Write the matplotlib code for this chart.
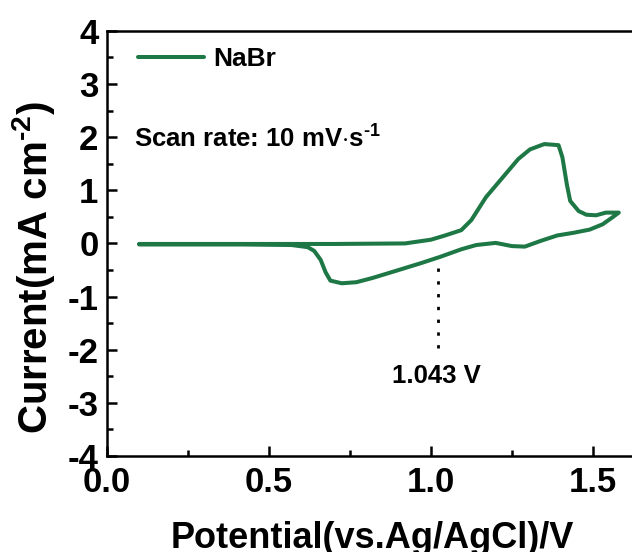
import matplotlib
matplotlib.use("Agg")
import matplotlib.pyplot as plt
from matplotlib.ticker import MultipleLocator, FormatStrFormatter

plt.rcParams['font.family'] = ['Liberation Sans', 'DejaVu Sans']
plt.rcParams['font.weight'] = 'bold'
plt.rcParams['axes.unicode_minus'] = False
plt.rcParams['mathtext.fontset'] = 'custom'
plt.rcParams['mathtext.rm'] = 'Liberation Sans:bold'
plt.rcParams['mathtext.bf'] = 'Liberation Sans:bold'
plt.rcParams['mathtext.it'] = 'Liberation Sans:bold'
plt.rcParams['mathtext.default'] = 'bf'

# Forward scan (anodic)
fwd_v = [0.10, 0.42, 0.70, 0.92, 1.00, 1.044, 1.094, 1.125, 1.17, 1.22, 1.27, 1.306,
         1.35, 1.394, 1.406, 1.42, 1.43, 1.456, 1.48, 1.51, 1.54, 1.58]
fwd_i = [-0.01, -0.01, -0.01, 0.00, 0.07, 0.15, 0.25, 0.44, 0.87, 1.23, 1.59, 1.77,
         1.87, 1.85, 1.62, 1.10, 0.80, 0.61, 0.54, 0.53, 0.58, 0.58]
# Reverse scan (cathodic)
rev_v = [1.58, 1.5625, 1.53, 1.49, 1.44, 1.39, 1.34, 1.29, 1.25, 1.20, 1.14, 1.094,
         1.03, 0.97, 0.89, 0.82, 0.77, 0.725, 0.69, 0.675, 0.66, 0.64, 0.62, 0.57,
         0.42, 0.10]
rev_i = [0.58, 0.50, 0.36, 0.26, 0.20, 0.15, 0.05, -0.06, -0.05, 0.01, -0.03, -0.11,
         -0.25, -0.37, -0.52, -0.65, -0.73, -0.75, -0.70, -0.54, -0.31, -0.14, -0.07,
         -0.03, -0.02, -0.02]

mark_v = 1.023
mark_label = "1.043 V"

color = '#1e7846'

fig = plt.figure(figsize=(6.32, 5.52), dpi=100)
ax = fig.add_axes([0.169, 0.174, 0.846, 0.770])

ax.plot(fwd_v + rev_v, fwd_i + rev_i, color=color, lw=2.9, solid_joinstyle='round',
        solid_capstyle='round', label='NaBr')

ax.plot([mark_v, mark_v], [-0.47, -2.05], color='black', lw=2.0, ls=(0, (1.2, 3.4)))
ax.text(mark_v - 0.005, -2.5, mark_label, ha='center', va='center', fontsize=18.5,
        fontweight='bold')

ax.text(0.084, 1.97, r'Scan rate: 10 mV$\cdot$s$^{\text{-1}}$', ha='left', va='center',
        fontsize=18.5, fontweight='bold')

ax.legend(loc='center left', bbox_to_anchor=(0.058, 0.933), frameon=False, fontsize=19,
          handlelength=2.5, handletextpad=0.35, borderaxespad=0, borderpad=0)

ax.set_xlim(0, 1.65)
ax.set_ylim(-4, 4)
ax.xaxis.set_major_locator(MultipleLocator(0.5))
ax.xaxis.set_minor_locator(MultipleLocator(0.25))
ax.xaxis.set_major_formatter(FormatStrFormatter('%.1f'))
ax.yaxis.set_major_locator(MultipleLocator(1))
ax.yaxis.set_minor_locator(MultipleLocator(0.5))
ax.tick_params(which='both', direction='in', width=1.8, labelsize=25)
ax.tick_params(axis='x', pad=7)
ax.tick_params(axis='y', pad=6)
ax.tick_params(which='major', length=7)
ax.tick_params(which='minor', length=4)
for lab in ax.get_xticklabels() + ax.get_yticklabels():
    lab.set_fontweight('bold')
for s in ax.spines.values():
    s.set_linewidth(1.8)

ax.set_xlabel('Potential(vs.Ag/AgCl)/V', fontsize=26, fontweight='bold')
ax.set_ylabel(r'Current(mA cm$^{\text{-2}}$)', fontsize=29, fontweight='bold')
ax.xaxis.set_label_coords(0.497, -0.153)
ax.yaxis.set_label_coords(-0.094, 0.443)

fig.savefig('out.png', dpi=100)
